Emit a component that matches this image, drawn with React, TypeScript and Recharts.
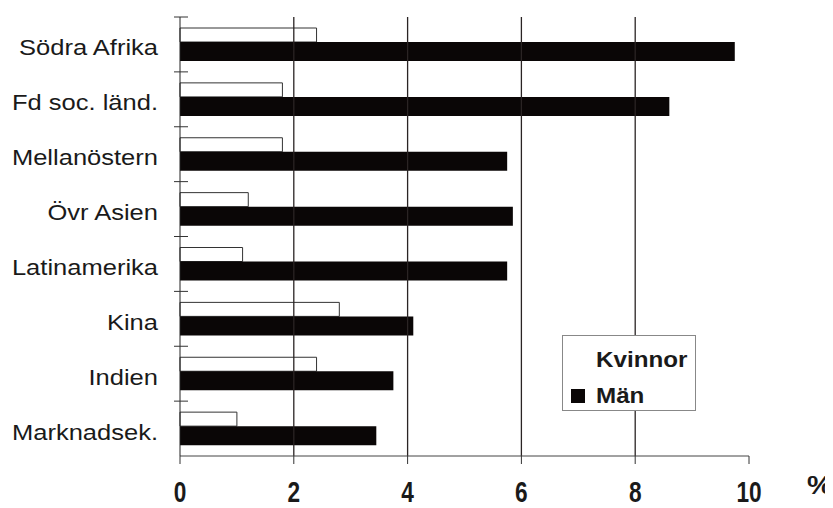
import React from "react";
import {
  BarChart,
  Bar,
  XAxis,
  YAxis,
  Legend,
  ReferenceLine,
} from "recharts";

// values (percent)
const categories = [
  "Södra Afrika",
  "Fd soc. länd.",
  "Mellanöstern",
  "Övr Asien",
  "Latinamerika",
  "Kina",
  "Indien",
  "Marknadsek.",
];
const kvinnor = [2.4, 1.8, 1.8, 1.2, 1.1, 2.8, 2.4, 1.0];
const man = [9.75, 8.6, 5.75, 5.85, 5.75, 4.1, 3.75, 3.45];
const xTicks = [0, 2, 4, 6, 8, 10];
const gridValues = [2, 4, 6, 8];

const data = categories.map((name, i) => ({
  name,
  Kvinnor: kvinnor[i],
  Män: man[i],
}));

const W = 825;
const H = 500;
const M = { top: 9, right: 84, bottom: 0, left: 0 };
const Y_W = 172;
const X_H = 52;
const plotH = H - M.top - M.bottom - X_H;
const band = plotH / categories.length;

const FONT = "'Liberation Sans', Arial, sans-serif";

const CatTick = (props: any) => {
  const { x, y, payload } = props;
  return (
    <g>
      <line x1={x - 6} x2={x + 8} y1={y - band / 2} y2={y - band / 2} stroke="#333" />
      <g transform={`translate(${x - 22},${y + 11}) scale(1.16,1.03)`}>
        <text x={0} y={0} textAnchor="end" fontFamily={FONT} fontSize={22} fill="#1a1a1a">
          {payload.value}
        </text>
      </g>
    </g>
  );
};

const NumTick = (props: any) => {
  const { x, y, payload } = props;
  return (
    <g transform={`translate(${x},${y + 38}) scale(1.03,1.3)`}>
      <text
        x={0}
        y={0}
        textAnchor="middle"
        fontFamily={FONT}
        fontWeight="bold"
        fontSize={22}
        fill="#1a1a1a"
      >
        {payload.value}
      </text>
    </g>
  );
};

const PctLabel = (props: any) => {
  const vb = props.viewBox || {};
  return (
    <g transform={`translate(${vb.x + vb.width + 58},${vb.y + 38}) scale(1.3,1.2)`}>
      <text x={0} y={0} fontFamily={FONT} fontWeight="bold" fontSize={22} fill="#1a1a1a">
        %
      </text>
    </g>
  );
};

const LegendBox = (props: any) => {
  const items = props.payload || [];
  return (
    <div
      style={{
        width: 132,
        height: 74,
        border: "1px solid #888",
        background: "#fff",
        position: "relative",
        fontFamily: FONT,
        fontWeight: "bold",
        fontSize: 22,
        color: "#1a1a1a",
      }}
    >
      {items.map((it: any, i: number) => (
        <div
          key={it.value}
          style={{
            position: "absolute",
            left: 8,
            top: 12 + i * 36,
            display: "flex",
            alignItems: "center",
            lineHeight: "24px",
          }}
        >
          <span
            style={{
              display: "inline-block",
              width: 14,
              height: 14,
              background: it.value === "Män" ? "#0a0606" : "#fff",
              marginRight: 11,
            }}
          />
          <span style={{ display: "inline-block", transform: "scaleX(1.1)", transformOrigin: "left" }}>
            {it.value}
          </span>
        </div>
      ))}
    </div>
  );
};

export default function App() {
  return (
    <div style={{ background: "#fff" }}>
      <BarChart
        width={W}
        height={H}
        data={data}
        layout="vertical"
        margin={M}
        barGap={0}
      >
        <XAxis
          type="number"
          domain={[0, 10]}
          ticks={xTicks}
          height={X_H}
          axisLine={{ stroke: "#444" }}
          tickLine={{ stroke: "#333" }}
          tickSize={8}
          tickMargin={0}
          tick={<NumTick />}
          label={<PctLabel />}
        />
        <YAxis
          type="category"
          dataKey="name"
          width={Y_W}
          axisLine={{ stroke: "#222" }}
          tickLine={false}
          tickSize={0}
          tickMargin={0}
          tick={<CatTick />}
          interval={0}
        />
        <Bar
          dataKey="Kvinnor"
          barSize={14}
          fill="#fff"
          stroke="#333"
          strokeWidth={1}
          isAnimationActive={false}
        />
        <Bar dataKey="Män" barSize={19} fill="#0a0606" isAnimationActive={false} />
        {gridValues.map((v) => (
          <ReferenceLine key={v} x={v} stroke="#2a2424" strokeWidth={1.3} />
        ))}
        <Legend
          layout="vertical"
          align="center"
          verticalAlign="middle"
          content={<LegendBox />}
          wrapperStyle={{ left: 554, top: 327, width: 134 }}
        />
      </BarChart>
    </div>
  );
}
